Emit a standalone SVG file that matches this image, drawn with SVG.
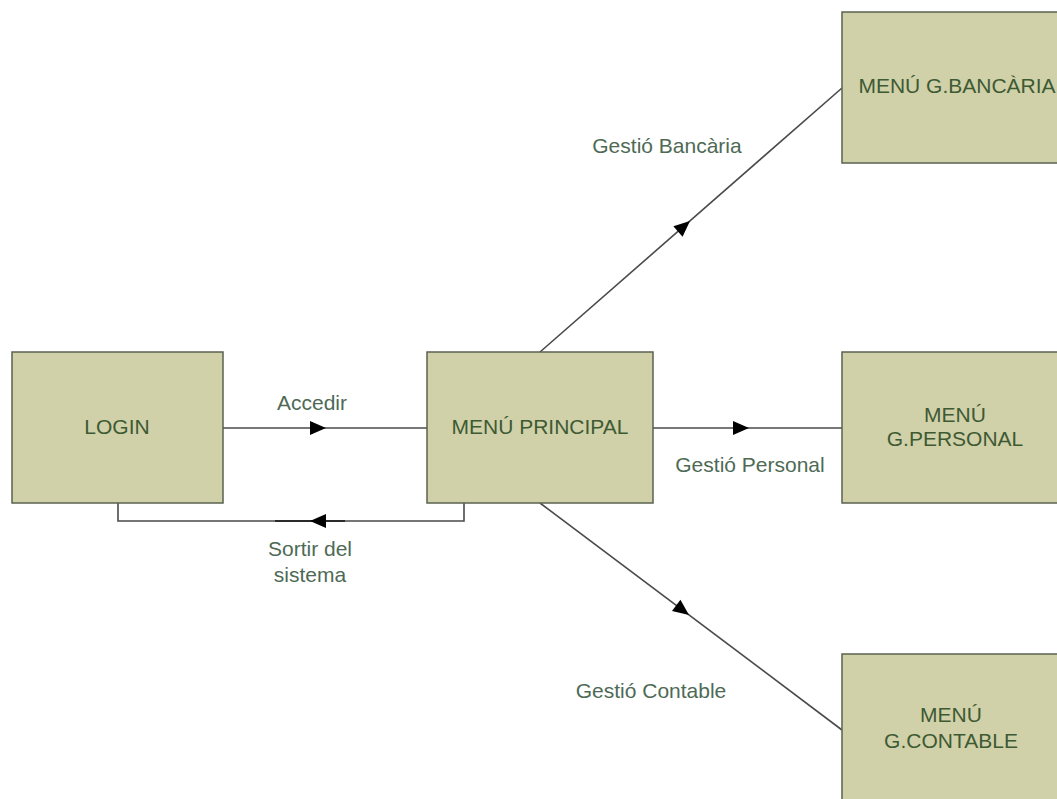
<svg xmlns="http://www.w3.org/2000/svg" width="1057" height="799" viewBox="0 0 1057 799">
  <style>
    .box { fill: #d0d0a9; stroke: #59634f; stroke-width: 1.5; }
    .node-text { font-family: "Liberation Sans", Arial, sans-serif; font-size: 21px; fill: #3e5a33; text-anchor: middle; }
    .label { font-family: "Liberation Sans", Arial, sans-serif; font-size: 21px; fill: #4e6a55; text-anchor: middle; }
    .wire { fill: none; stroke: #4a4a4a; stroke-width: 1.6; }
    .head { fill: #000000; }
  </style>
  <rect width="1057" height="799" fill="#ffffff"/>

  <!-- connectors -->
  <g id="connectors">
    <!-- LOGIN -> MENÚ PRINCIPAL -->
    <line class="wire" x1="223" y1="428" x2="427" y2="428"/>
    <polygon class="head" points="326,428 310,421 310,435"/>
    <!-- MENÚ PRINCIPAL -> LOGIN (return loop) -->
    <polyline class="wire" points="464,503 464,521 118,521 118,503"/>
    <line x1="275" y1="521" x2="345" y2="521" stroke="#2a2a2a" stroke-width="2.2"/>
    <polygon class="head" points="310,521 326,514 326,528"/>
    <!-- MENÚ PRINCIPAL -> MENÚ G.BANCÀRIA -->
    <line class="wire" x1="540" y1="352" x2="842" y2="88"/>
    <polygon class="head" points="0,0 -16,-7 -16,7" transform="translate(690,221) rotate(-41.2)"/>
    <!-- MENÚ PRINCIPAL -> MENÚ G.PERSONAL -->
    <line class="wire" x1="653" y1="428" x2="842" y2="428"/>
    <polygon class="head" points="749,428 733,421 733,435"/>
    <!-- MENÚ PRINCIPAL -> MENÚ G.CONTABLE -->
    <line class="wire" x1="540" y1="503" x2="842" y2="730"/>
    <polygon class="head" points="0,0 -16,-7 -16,7" transform="translate(689,615) rotate(36.9)"/>

    <text class="label" x="312" y="410">Accedir</text>
    <text class="label" x="310" y="556">Sortir del</text>
    <text class="label" x="310" y="582">sistema</text>
    <text class="label" x="667" y="153">Gestió Bancària</text>
    <text class="label" x="750" y="472">Gestió Personal</text>
    <text class="label" x="651" y="698">Gestió Contable</text>
  </g>

  <g id="login">
    <rect class="box" x="12" y="352" width="211" height="151"/>
    <text class="node-text" x="117" y="434">LOGIN</text>
  </g>

  <g id="menu-principal">
    <rect class="box" x="427" y="352" width="226" height="151"/>
    <text class="node-text" x="540" y="434">MENÚ PRINCIPAL</text>
  </g>

  <g id="menu-bancaria">
    <rect class="box" x="842" y="12" width="226" height="151"/>
    <text class="node-text" x="957" y="93">MENÚ G.BANCÀRIA</text>
  </g>

  <g id="menu-personal">
    <rect class="box" x="842" y="352" width="226" height="151"/>
    <text class="node-text" x="955" y="422">MENÚ</text>
    <text class="node-text" x="955" y="446">G.PERSONAL</text>
  </g>

  <g id="menu-contable">
    <rect class="box" x="842" y="654" width="226" height="160"/>
    <text class="node-text" x="951" y="722">MENÚ</text>
    <text class="node-text" x="951" y="748">G.CONTABLE</text>
  </g>
</svg>
